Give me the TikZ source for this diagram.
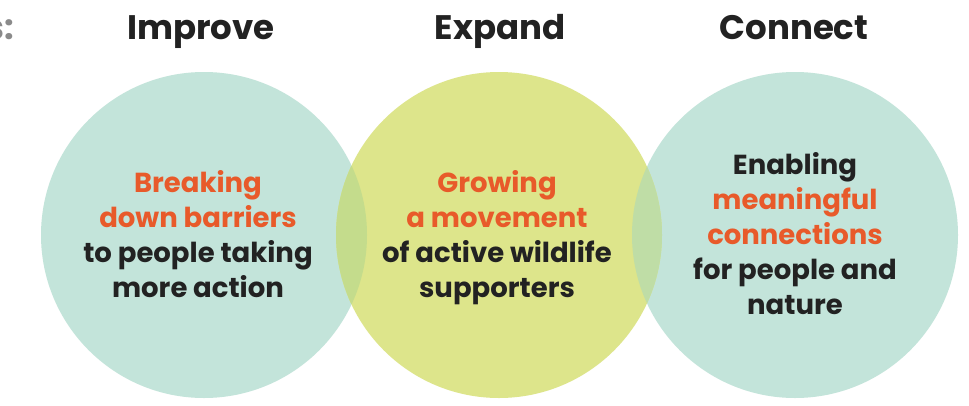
\documentclass[tikz,border=0pt]{standalone}
\usepackage{fontspec}
\setmainfont{Poppins}
\definecolor{teal}{HTML}{C3E4DA}
\definecolor{lime}{HTML}{DDE58B}
\definecolor{lapA}{HTML}{C4DC8C}
\definecolor{lapB}{HTML}{BFDDA6}
\definecolor{orng}{HTML}{E85A2A}
\definecolor{ink}{HTML}{222222}
\definecolor{grey}{HTML}{8A8A8A}
\begin{document}
\begin{tikzpicture}[x=1pt,y=-1pt,
  title/.style={font=\fontsize{34}{40}\selectfont\bfseries, text=ink, anchor=base},
  body/.style={font=\fontsize{27.5}{35}\selectfont\bfseries, text=ink, align=center, anchor=center}]
\useasboundingbox (0,0) rectangle (969,405);
\fill[white] (0,0) rectangle (969,405);
% circles
\fill[teal] (204,235) circle (163);
\fill[teal] (795,235) circle (163);
\fill[lime] (499,235) circle (163);
\begin{scope}
  \clip (204,235) circle (163);
  \fill[lapA] (499,235) circle (163);
\end{scope}
\begin{scope}
  \clip (795,235) circle (163);
  \fill[lapB] (499,235) circle (163);
\end{scope}
% titles
\node[title] (t1) at (201,39) {Improve};
\node[title] (t2) at (500,39) {Expand};
\node[title] (t3) at (794,39) {Connect};
\node[title, text=grey, anchor=base east] (t0) at (18,39) {s:};
% bodies
\node[body] (b1) at (198,234) {\textcolor{orng}{Breaking}\\\textcolor{orng}{down barriers}\\to people taking\\more action};
\node[body] (b2) at (497,238) {\textcolor{orng}{Growing}\\\textcolor{orng}{a movement}\\of active wildlife\\supporters};
\node[body] (b3) at (795,234) {Enabling\\\textcolor{orng}{meaningful}\\\textcolor{orng}{connections}\\for people and\\nature};
\end{tikzpicture}
\end{document}
